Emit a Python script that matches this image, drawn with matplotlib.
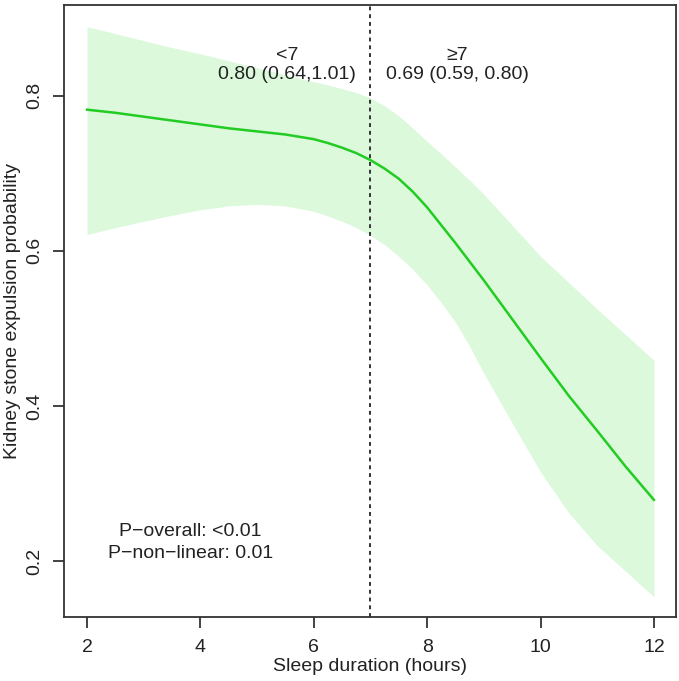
import matplotlib.pyplot as plt

plt.rcParams['font.family'] = ['Liberation Sans', 'DejaVu Sans']

# sleep duration (hours) and fitted probability with 95% band
hours = [2, 2.5, 3, 3.5, 4, 4.5, 5, 5.5, 6, 6.25, 6.5, 6.75, 7, 7.25, 7.5, 7.75,
         8, 8.25, 8.5, 8.75, 9, 9.5, 10, 10.5, 11, 11.5, 12]
prob = [0.782, 0.778, 0.773, 0.768, 0.763, 0.758, 0.754, 0.750, 0.744, 0.739, 0.733, 0.726,
        0.717, 0.706, 0.693, 0.676, 0.656, 0.633, 0.610, 0.586, 0.562, 0.512, 0.462,
        0.413, 0.368, 0.322, 0.279]
upper = [0.889, 0.880, 0.871, 0.862, 0.854, 0.845, 0.836, 0.827, 0.818, 0.814, 0.809, 0.804,
         0.797, 0.787, 0.774, 0.758, 0.741, 0.725, 0.708, 0.691, 0.673, 0.633, 0.593,
         0.559, 0.525, 0.492, 0.459]
lower = [0.621, 0.630, 0.638, 0.646, 0.653, 0.658, 0.660, 0.658, 0.651, 0.645, 0.638, 0.630,
         0.620, 0.608, 0.593, 0.576, 0.556, 0.533, 0.508, 0.477, 0.442, 0.378, 0.315,
         0.262, 0.220, 0.187, 0.154]

cutoff = 7
left_txt = "<7\n0.80 (0.64,1.01)"
right_txt = "\u22657\n0.69 (0.59, 0.80)"
p_txt = "P\u2212overall: <0.01\nP\u2212non\u2212linear: 0.01"

fig = plt.figure(figsize=(6.79, 6.81), dpi=100)
ax = fig.add_axes([0.0943, 0.094, 0.9013, 0.8987])

ax.fill_between(hours, lower, upper, color='#dcf9dc', lw=0)
ax.plot(hours, prob, color='#22cc22', lw=1.8)
ax.axvline(cutoff, color='#333333', lw=1.4, linestyle=(0, (2, 2)))

ax.text(5.53, 0.840, left_txt, ha='center', va='center', fontsize=14, color='#222222', linespacing=1.15)
ax.text(8.53, 0.840, right_txt, ha='center', va='center', fontsize=14, color='#222222', linespacing=1.15)
ax.text(3.82, 0.224, p_txt, ha='center', va='center', fontsize=14, color='#222222', linespacing=1.4)

ax.set_xlim(1.594, 12.39)
ax.set_ylim(0.128, 0.917)
ax.set_xticks([2, 4, 6, 8, 10, 12])
ax.set_yticks([0.2, 0.4, 0.6, 0.8])
ax.set_yticklabels(['0.2', '0.4', '0.6', '0.8'], rotation=90, va='center')
ax.tick_params(labelsize=14, length=8, width=1.2, colors='#222222')
ax.tick_params(axis='x', pad=8)
ax.tick_params(axis='y', pad=7)
for s in ax.spines.values():
    s.set_linewidth(1.3)
    s.set_color('#333333')

ax.set_xlabel("Sleep duration (hours)", fontsize=14, color='#222222', labelpad=1)
ax.set_ylabel("Kidney stone expulsion probability", fontsize=14, color='#222222', labelpad=4)

fig.savefig('out.png', dpi=100)
